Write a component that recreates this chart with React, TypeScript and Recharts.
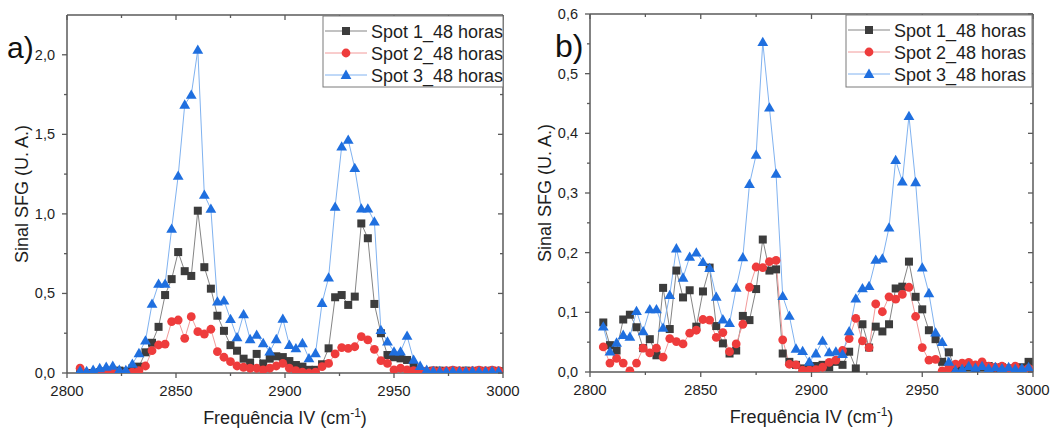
import React from "react";
import { LineChart, Line, XAxis, YAxis, Label } from "recharts";

const FONT = '"Liberation Sans", Arial, sans-serif';
const AXIS = "#5a5a5a";
const TEXT = "#1e1e1e";

// frequency (cm-1), shared by both panels
const freq = [
  2806, 2809, 2812, 2815, 2818, 2821, 2824, 2827, 2830, 2833, 2836, 2839, 2842, 2845, 2848, 2851, 2854,
  2857, 2860, 2863, 2866, 2869, 2872, 2875, 2878, 2881, 2884, 2887, 2890, 2893, 2896, 2899, 2902, 2905,
  2908, 2911, 2914, 2917, 2920, 2923, 2926, 2929, 2932, 2935, 2938, 2941, 2944, 2947, 2950, 2953, 2956,
  2959, 2962, 2965, 2968, 2971, 2974, 2977, 2980, 2983, 2986, 2989, 2992, 2995, 2998,
];

// panel a)
const spot1A = [
  0.01, 0.0, 0.0, 0.005, 0.01, 0.01, 0.015, 0.01, 0.03, 0.04,
  0.13, 0.19, 0.29, 0.49, 0.59, 0.76, 0.64, 0.61, 1.02, 0.665,
  0.53, 0.36, 0.265, 0.175, 0.14, 0.09, 0.065, 0.12, 0.06, 0.09,
  0.105, 0.1, 0.075, 0.05, 0.04, 0.02, 0.02, 0.055, 0.155, 0.476,
  0.49, 0.428, 0.48, 0.94, 0.847, 0.434, 0.25, 0.113, 0.099, 0.092,
  0.082, 0.04, 0.008, 0.01, 0.015, 0.015, 0.012, 0.015, 0.012, 0.015,
  0.012, 0.015, 0.012, 0.015, 0.012,
];
const spot2A = [
  0.03, 0.0, 0.0, 0.002, 0.005, 0.01, 0.0, 0.0, 0.005, 0.015,
  0.044, 0.14, 0.176, 0.182, 0.323, 0.333, 0.218, 0.354, 0.26, 0.245,
  0.275, 0.134, 0.099, 0.071, 0.044, 0.036, 0.03, 0.03, 0.02, 0.03,
  0.044, 0.061, 0.03, 0.015, 0.005, 0.0, 0.005, 0.04, 0.06, 0.12,
  0.16, 0.155, 0.165, 0.228, 0.208, 0.149, 0.078, 0.06, 0.02, 0.03,
  0.02, 0.015, 0.015, 0.012, 0.015, 0.012, 0.015, 0.018, 0.015, 0.012,
  0.015, 0.018, 0.015, 0.018, 0.015,
];
const spot3A = [
  0.015, 0.012, 0.02, 0.03, 0.038, 0.045, 0.02, 0.018, 0.057, 0.124,
  0.203, 0.434, 0.56, 0.56, 0.906, 1.239, 1.686, 1.748, 2.031, 1.119,
  1.031, 0.449, 0.455, 0.338, 0.224, 0.369, 0.212, 0.239, 0.187, 0.134,
  0.212, 0.34, 0.176, 0.155, 0.187, 0.092, 0.124, 0.44, 0.6, 1.044,
  1.423, 1.465, 1.287, 1.033, 1.033, 0.952, 0.27, 0.197, 0.134, 0.134,
  0.233, 0.082, 0.044, 0.019, 0.012, 0.012, 0.01, 0.012, 0.01, 0.01,
  0.012, 0.01, 0.01, 0.012, 0.01,
];

// panel b)
const spot1B = [
  0.083, 0.045, 0.036, 0.088, 0.096, 0.075, 0.04, 0.055, 0.028, 0.141,
  0.072, 0.17, 0.125, 0.137, 0.076, 0.135, 0.175, 0.077, 0.048, 0.031,
  0.036, 0.094, 0.087, 0.139, 0.222, 0.17, 0.172, 0.031, 0.017, 0.012,
  0.006, 0.008, 0.01, 0.012, 0.008, 0.017, 0.012, 0.034, 0.006, 0.08,
  0.041, 0.076, 0.068, 0.08, 0.14, 0.143, 0.185, 0.126, 0.105, 0.07,
  0.055, 0.017, 0.033, 0.003, 0.005, 0.008, 0.004, 0.008, 0.01, 0.005,
  0.008, 0.006, 0.003, 0.008, 0.017,
];
const spot2B = [
  0.042, 0.015, 0.023, 0.015, 0.002, 0.015, 0.04, 0.032, 0.04, 0.025,
  0.056, 0.051, 0.047, 0.065, 0.07, 0.088, 0.087, 0.058, 0.066, 0.034,
  0.047, 0.08, 0.142, 0.176, 0.175, 0.185, 0.187, 0.054, 0.013, 0.012,
  0.003, 0.003, 0.004, 0.008, 0.016, 0.02, 0.036, 0.056, 0.09, 0.052,
  0.041, 0.114, 0.101, 0.126, 0.122, 0.13, 0.142, 0.093, 0.041, 0.02,
  0.021, 0.002, 0.007, 0.013, 0.015, 0.016, 0.012, 0.017, 0.01, 0.008,
  0.01, 0.006, 0.01, 0.004, 0.006,
];
const spot3B = [
  0.076, 0.034, 0.049, 0.062, 0.059, 0.102, 0.068, 0.105, 0.105, 0.074,
  0.129, 0.207, 0.158, 0.193, 0.2, 0.184, 0.174, 0.126, 0.088, 0.082,
  0.141, 0.192, 0.315, 0.364, 0.553, 0.443, 0.332, 0.127, 0.094, 0.039,
  0.035, 0.017, 0.031, 0.052, 0.033, 0.034, 0.03, 0.068, 0.123, 0.14,
  0.144, 0.188, 0.19, 0.242, 0.355, 0.319, 0.429, 0.318, 0.175, 0.132,
  0.066, 0.05, 0.017, 0.003, 0.005, 0.01, 0.007, 0.01, 0.006, 0.008,
  0.006, 0.008, 0.005, 0.006, 0.008,
];

const xTicks = [2800, 2825, 2850, 2875, 2900, 2925, 2950, 2975, 3000];
const yTicksA = [0, 0.25, 0.5, 0.75, 1, 1.25, 1.5, 1.75, 2];
const yTicksB = [0, 0.05, 0.1, 0.15, 0.2, 0.25, 0.3, 0.35, 0.4, 0.45, 0.5, 0.55, 0.6];
const seriesNames = ["Spot 1_48 horas", "Spot 2_48 horas", "Spot 3_48 horas"];

const series = [
  { key: "s1", line: "#858585", fill: "#3c3c3c", shape: "square" },
  { key: "s2", line: "#f29a9a", fill: "#ee3c3c", shape: "circle" },
  { key: "s3", line: "#80b2f0", fill: "#1f6fdf", shape: "triangle" },
]

const dataA = freq.map((f, i) => ({ f, s1: spot1A[i], s2: spot2A[i], s3: spot3A[i] }))
const dataB = freq.map((f, i) => ({ f, s1: spot1B[i], s2: spot2B[i], s3: spot3B[i] }))

const fmt = (v: number) => v.toFixed(1).replace(".", ",")
const isMajor = (v: number, step: number) => Math.abs(v / step - Math.round(v / step)) < 1e-6

function Marker({ shape, cx, cy, fill }: any) {
  if (cx == null || cy == null || isNaN(cx) || isNaN(cy)) return <g />
  if (shape === "square") return <rect x={cx - 4} y={cy - 4} width={8} height={8} fill={fill} />
  if (shape === "circle") return <circle cx={cx} cy={cy} r={4.4} fill={fill} />
  return <path d={`M${cx},${cy - 5.4} L${cx + 5.4},${cy + 3.9} L${cx - 5.4},${cy + 3.9} Z`} fill={fill} />
}

const XTickBottom = ({ x, y, payload }: any) => {
  const major = isMajor(payload.value, 50)
  return (
    <g>
      <line x1={x} x2={x} y1={y} y2={y + (major ? 5 : 3)} stroke={AXIS} strokeWidth={1.3} />
      {major && (
        <text x={x} y={y + 23} textAnchor="middle" fontSize={15} fill={TEXT} fontFamily={FONT}>
          {payload.value}
        </text>
      )}
    </g>
  )
}

const XTickTop = ({ x, y, payload }: any) => {
  const major = isMajor(payload.value, 50)
  return <line x1={x} x2={x} y1={y} y2={y + (major ? 5 : 3)} stroke={AXIS} strokeWidth={1.3} />
}

const YTickLeft = ({ x, y, payload, step }: any) => {
  const major = isMajor(payload.value, step)
  return (
    <g>
      <line x1={x - (major ? 5 : 3)} x2={x} y1={y} y2={y} stroke={AXIS} strokeWidth={1.3} />
      {major && (
        <text x={x - 12} y={y + 5} textAnchor="end" fontSize={14.5} fill={TEXT} fontFamily={FONT}>
          {fmt(payload.value)}
        </text>
      )}
    </g>
  )
}

const YTickRight = ({ x, y, payload, step }: any) => {
  const major = isMajor(payload.value, step)
  return <line x1={x - (major ? 5 : 3)} x2={x} y1={y} y2={y} stroke={AXIS} strokeWidth={1.3} />
}

const XTitle = ({ viewBox }: any) => {
  const cx = viewBox.x + viewBox.width / 2
  return (
    <text x={cx} y={viewBox.y + 51} textAnchor="middle" fontSize={18} fill={TEXT} fontFamily={FONT}>
      Frequência IV (cm<tspan dy={-7} fontSize={12}>-1</tspan>
      <tspan dy={7}>)</tspan>
    </text>
  )
}

const YTitle = ({ viewBox, dx }: any) => {
  const x = viewBox.x + dx
  const y = viewBox.y + viewBox.height / 2
  return (
    <text
      x={x}
      y={y}
      transform={`rotate(-90 ${x} ${y})`}
      textAnchor="middle"
      dominantBaseline="central"
      fontSize={18}
      fill={TEXT}
      fontFamily={FONT}
    >
      Sinal SFG (U. A.)
    </text>
  )
}

function Panel({ data, width, yWidth, top, right, bottomH, yMax, yTicks, step, titleDx }: any) {
  const axisLine = { stroke: AXIS, strokeWidth: 1.5 }
  return (
    <LineChart width={width} height={430} data={data} margin={{ top, right, bottom: 0, left: 0 }}>
      <XAxis
        xAxisId="b"
        dataKey="f"
        type="number"
        domain={[2800, 3000]}
        ticks={xTicks}
        interval={0}
        height={bottomH}
        tickSize={0}
        tickMargin={0}
        tickLine={false}
        axisLine={axisLine}
        tick={<XTickBottom />}
        allowDataOverflow
      >
        <Label content={XTitle} />
      </XAxis>
      <XAxis
        xAxisId="t"
        orientation="top"
        dataKey="f"
        type="number"
        domain={[2800, 3000]}
        ticks={xTicks}
        interval={0}
        height={1}
        tickSize={0}
        tickMargin={0}
        tickLine={false}
        axisLine={axisLine}
        tick={<XTickTop />}
        allowDataOverflow
      />
      <YAxis
        yAxisId="l"
        type="number"
        domain={[0, yMax]}
        ticks={yTicks}
        interval={0}
        width={yWidth}
        tickSize={0}
        tickMargin={0}
        tickLine={false}
        axisLine={axisLine}
        tick={<YTickLeft step={step} />}
        allowDataOverflow
      >
        <Label content={(p: any) => <YTitle {...p} dx={titleDx} />} />
      </YAxis>
      <YAxis
        yAxisId="r"
        orientation="right"
        type="number"
        domain={[0, yMax]}
        ticks={yTicks}
        interval={0}
        width={1}
        tickSize={0}
        tickMargin={0}
        tickLine={false}
        axisLine={axisLine}
        tick={<YTickRight step={step} />}
        allowDataOverflow
      />
      {series.map((s) => (
        <Line
          key={s.key}
          xAxisId="b"
          yAxisId="l"
          type="linear"
          dataKey={s.key}
          stroke={s.line}
          strokeWidth={1}
          dot={(p: any) => <Marker key={`${s.key}-${p.index}`} shape={s.shape} cx={p.cx} cy={p.cy} fill={s.fill} />}
          activeDot={false}
          isAnimationActive={false}
        />
      ))}
    </LineChart>
  )
}

function LegendBox({ x, y, w, h }: any) {
  return (
    <g>
      <rect x={x} y={y} width={w} height={h} fill="#fff" stroke="#7a7a7a" strokeWidth={1} />
      {series.map((s, i) => {
        const cy = y + 15 + 22 * i
        return (
          <g key={s.key}>
            <line x1={x + 2} x2={x + 44} y1={cy} y2={cy} stroke={s.line} strokeWidth={1} />
            <Marker shape={s.shape} cx={x + 23} cy={cy} fill={s.fill} />
            <text x={x + 48} y={cy + 6.5} fontSize={18} fill={TEXT} fontFamily={FONT}>
              {seriesNames[i]}
            </text>
          </g>
        )
      })}
    </g>
  )
}

export default function App() {
  return (
    <div style={{ position: "fixed", left: 0, top: 0, width: 1051, height: 430, background: "#fff" }}>
      <div style={{ position: "absolute", left: 0, top: 0 }}>
        <Panel data={dataA} width={530} yWidth={67} top={14} right={26} bottomH={57} yMax={2.25} yTicks={yTicksA} step={0.5} titleDx={22} />
      </div>
      <div style={{ position: "absolute", left: 530, top: 0 }}>
        <Panel data={dataB} width={521} yWidth={60} top={13} right={17} bottomH={58} yMax={0.6} yTicks={yTicksB} step={0.1} titleDx={15} />
      </div>
      <svg width={1051} height={430} style={{ position: "absolute", left: 0, top: 0, pointerEvents: "none" }}>
        <LegendBox x={323} y={16} w={180} h={71} />
        <LegendBox x={846} y={15} w={186} h={72} />
        <text x={7} y={58} fontSize={30} fill="#111" fontFamily={FONT}>a)</text>
        <text x={555} y={57} fontSize={32} fill="#111" fontFamily={FONT}>b)</text>
      </svg>
    </div>
  )
}
